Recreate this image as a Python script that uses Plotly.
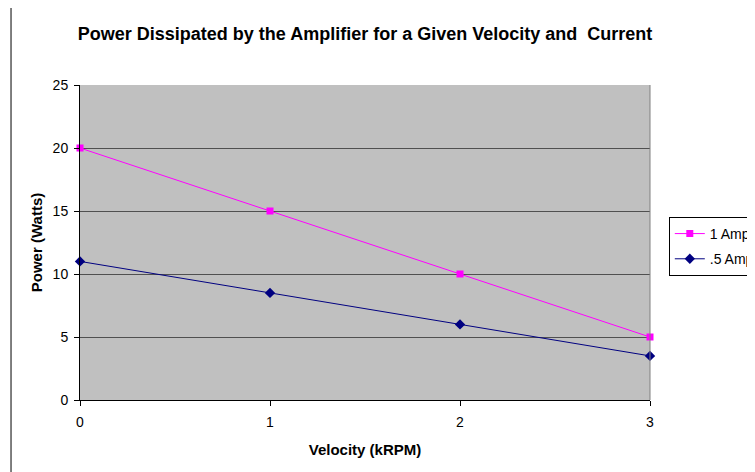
# Power dissipated by the amplifier - Excel style line chart

import plotly.graph_objs as go

#----------------------------------------------------------
# Data

velocity = [0, 1, 2, 3]  # kRPM
power_1amp = [20, 15, 10, 5]  # Watts
power_half_amp = [11, 8.5, 6, 3.5]  # Watts

y_ticks = [0, 5, 10, 15, 20, 25]

#----------------------------------------------------------
# Traces

trace_1amp = go.Scatter(
    x = velocity,
    y = power_1amp,
    name = "1 Amp",
    legendgroup = "a",
    mode = "lines+markers",
    line = dict(color = "#FF00FF", width = 1),
    marker = dict(symbol = "square", size = 7, color = "#FF00FF"),
    cliponaxis = False,
)

trace_half_amp = go.Scatter(
    x = velocity,
    y = power_half_amp,
    name = ".5 Amp",
    legendgroup = "b",
    mode = "lines+markers",
    line = dict(color = "#000080", width = 1),
    marker = dict(symbol = "diamond", size = 8, color = "#000080"),
    cliponaxis = False,
)

font = "Arial, Liberation Sans, sans-serif"

# page is drawn with an 8px body offset, so margins are shifted to compensate
layout = go.Layout(
    width = 755,
    height = 472,
    margin = dict(l = 72, r = 113, t = 77, b = 80, autoexpand = False),
    paper_bgcolor = "white",
    plot_bgcolor = "#C0C0C0",
    font = dict(family = font, size = 14, color = "black"),
    title = dict(
        text = "<b>Power Dissipated by the Amplifier for a Given Velocity and  Current</b>",
        font = dict(size = 18),
        x = 0.5, xref = "paper", xanchor = "center",
        y = 0.945, yref = "container", yanchor = "middle",
    ),
    xaxis = dict(
        title = dict(text = "<b>Velocity (kRPM)</b>", font = dict(size = 15), standoff = 15),
        range = [0, 3],
        tickvals = velocity,
        ticks = "outside", ticklen = 5, tickcolor = "black",
        ticklabelstandoff = 4,
        showline = True, linecolor = "black", linewidth = 1,
        showgrid = False, zeroline = False,
    ),
    yaxis = dict(
        title = dict(text = "<b>Power (Watts)</b>", font = dict(size = 15), standoff = 6),
        range = [0, 25],
        tickvals = y_ticks,
        ticks = "outside", ticklen = 5, tickcolor = "black",
        ticklabelstandoff = 3,
        showline = True, linecolor = "black", linewidth = 1,
        showgrid = True, gridcolor = "#505050", gridwidth = 1,
        zeroline = False,
    ),
    legend = dict(
        x = 1.033, y = 0.581, xanchor = "left", yanchor = "top",
        bordercolor = "black", borderwidth = 1, bgcolor = "white",
        font = dict(size = 14),
        traceorder = "grouped",
        tracegroupgap = 4,
    ),
    shapes = [
        # plot area right border
        dict(type = "line", xref = "paper", yref = "paper", x0 = 1, x1 = 1, y0 = 0, y1 = 1,
             line = dict(color = "#808080", width = 1)),
        # chart outer border
        dict(type = "rect", xref = "paper", yref = "paper", x0 = -0.121, x1 = 1.4, y0 = -0.4, y1 = 1.2476,
             line = dict(color = "black", width = 1)),
    ],
)

fig = go.Figure(data = [trace_1amp, trace_half_amp], layout = layout)
fig.write_html("out.html")
